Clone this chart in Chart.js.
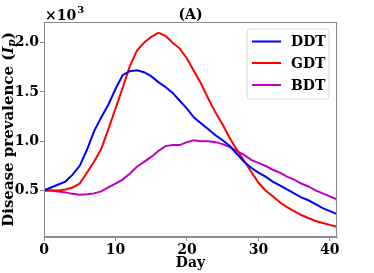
<!DOCTYPE html>
<html>
<head>
<meta charset="utf-8">
<script src="https://cdn.jsdelivr.net/npm/chart.js@4"></script>
<style>
html,body{margin:0;padding:0;background:#fff;}
#wrap{width:374px;height:273px;position:relative;}
</style>
</head>
<body>
<div id="wrap"><canvas id="c" width="374" height="273"></canvas></div>
<script>
const days = [0,1,2,3,4,5,6,7,8,9,10,11,12,13,14,15,16,17,18,19,20,21,22,23,24,25,26,27,28,29,30,31,32,33,34,35,36,37,38,39,40,41];
const ddt = [0.50,0.53,0.56,0.59,0.66,0.75,0.91,1.10,1.24,1.37,1.53,1.67,1.71,1.72,1.70,1.66,1.60,1.55,1.49,1.41,1.33,1.24,1.18,1.12,1.06,1.01,0.95,0.87,0.79,0.73,0.68,0.64,0.59,0.55,0.51,0.47,0.43,0.40,0.36,0.32,0.29,0.26];
const gdt = [0.50,0.50,0.50,0.51,0.53,0.57,0.68,0.79,0.92,1.12,1.33,1.54,1.76,1.92,2.00,2.06,2.10,2.07,2.00,1.94,1.84,1.71,1.58,1.43,1.29,1.17,1.03,0.91,0.80,0.69,0.58,0.50,0.44,0.38,0.33,0.29,0.25,0.22,0.19,0.17,0.15,0.13];
const bdt = [0.50,0.50,0.49,0.48,0.465,0.455,0.46,0.47,0.49,0.53,0.57,0.61,0.67,0.74,0.79,0.84,0.90,0.95,0.96,0.96,0.99,1.01,1.00,1.00,0.99,0.97,0.94,0.90,0.86,0.81,0.78,0.75,0.71,0.68,0.64,0.61,0.57,0.54,0.50,0.47,0.44,0.41];
const seriesNames = ['DDT','GDT','BDT'];
const seriesColors = ['#0000ff','#ff0000','#bf00bf'];
const xTicks = [0,10,20,30,40];
const yTicks = [0.5,1.0,1.5,2.0];
const panelTitle = '(A)';
const xTitle = 'Day';

const FONT = "'DejaVu Serif'";
const spine = '#8a8a8a';

function pts(arr){ return days.map((d,i)=>({x:d,y:arr[i]})); }

const deco = {
  id:'deco',
  afterDraw(chart){
    const ctx = chart.ctx, a = chart.chartArea;
    ctx.save();
    ctx.strokeStyle = spine; ctx.lineWidth = 1;
    ctx.strokeRect(Math.round(a.left)+0.5, Math.round(a.top)+0.5, Math.round(a.right-a.left)-1, Math.round(a.bottom-a.top)-1);
    ctx.fillStyle = '#000';
    ctx.font = 'bold 14px ' + FONT;
    ctx.textAlign = 'center'; ctx.textBaseline = 'alphabetic';
    ctx.fillText(panelTitle, (a.left+a.right)/2, 19);
    ctx.textAlign = 'left';
    ctx.fillText('\u00d710', a.left+1, 20);
    const w = ctx.measureText('\u00d710').width;
    ctx.font = 'bold 10px ' + FONT;
    ctx.fillText('3', a.left+1+w+1, 13);
    ctx.font = 'bold 14px ' + FONT;
    ctx.textAlign = 'center';
    ctx.fillText(xTitle, (a.left+a.right)/2, 267);
    ctx.save();
    ctx.translate(12.5, (a.top+a.bottom)/2);
    ctx.rotate(-Math.PI/2);
    const p1 = 'Disease prevalence (', p2 = 'I', p3 = 'p', p4 = ')';
    ctx.font = 'bold 15px ' + FONT; const w1 = ctx.measureText(p1).width, w4 = ctx.measureText(p4).width;
    ctx.font = 'bold italic 15px ' + FONT; const w2 = ctx.measureText(p2).width;
    ctx.font = 'bold italic 10.5px ' + FONT; const w3 = ctx.measureText(p3).width;
    let x = -(w1+w2+w3+w4)/2;
    ctx.textAlign = 'left';
    ctx.font = 'bold 15px ' + FONT; ctx.fillText(p1, x, 0); x += w1;
    ctx.font = 'bold italic 15px ' + FONT; ctx.fillText(p2, x, 0); x += w2;
    ctx.font = 'bold italic 10.5px ' + FONT; ctx.fillText(p3, x, 2.5); x += w3;
    ctx.font = 'bold 15px ' + FONT; ctx.fillText(p4, x, 0);
    ctx.restore();
    const bx = 247, by = 29, bw = 82, bh = 70, r = 3;
    ctx.beginPath();
    ctx.moveTo(bx+r,by); ctx.lineTo(bx+bw-r,by); ctx.quadraticCurveTo(bx+bw,by,bx+bw,by+r);
    ctx.lineTo(bx+bw,by+bh-r); ctx.quadraticCurveTo(bx+bw,by+bh,bx+bw-r,by+bh);
    ctx.lineTo(bx+r,by+bh); ctx.quadraticCurveTo(bx,by+bh,bx,by+bh-r);
    ctx.lineTo(bx,by+r); ctx.quadraticCurveTo(bx,by,bx+r,by); ctx.closePath();
    ctx.fillStyle = 'rgba(255,255,255,0.8)'; ctx.fill();
    ctx.strokeStyle = '#d8d8d8'; ctx.lineWidth = 1; ctx.stroke();
    const rows = [41.5, 63, 85];
    ctx.font = 'bold 14px ' + FONT; ctx.textBaseline = 'middle'; ctx.textAlign = 'left';
    chart.data.datasets.forEach((ds,i)=>{
      ctx.strokeStyle = ds.borderColor; ctx.lineWidth = 2;
      ctx.beginPath(); ctx.moveTo(252, rows[i]); ctx.lineTo(281, rows[i]); ctx.stroke();
      ctx.fillStyle = '#000'; ctx.fillText(ds.label, 291, rows[i]+1);
    });
    ctx.restore();
  }
};

new Chart(document.getElementById('c'), {
  type:'line',
  data:{
    datasets:[
      {label:seriesNames[0], data:pts(ddt), borderColor:seriesColors[0]},
      {label:seriesNames[1], data:pts(gdt), borderColor:seriesColors[1]},
      {label:seriesNames[2], data:pts(bdt), borderColor:seriesColors[2]}
    ]
  },
  options:{
    responsive:false, animation:false, devicePixelRatio:1,
    elements:{point:{radius:0}, line:{borderWidth:2, tension:0, fill:false}},
    layout:{padding:{top:22,right:37,left:0,bottom:0}},
    plugins:{legend:{display:false}, title:{display:false}, tooltip:{enabled:false}},
    scales:{
      x:{type:'linear', min:0, max:41,
        afterBuildTicks(s){ s.ticks = xTicks.map(v=>({value:v})); },
        afterFit(s){ s.height = 36; },
        ticks:{font:{family:'DejaVu Serif', size:14, weight:'bold'}, color:'#000', padding:1, maxRotation:0, autoSkip:false, callback:v=>String(v)},
        grid:{drawOnChartArea:false, tickLength:4, color:spine},
        border:{color:spine}
      },
      y:{type:'linear', min:0.027, max:2.21,
        afterBuildTicks(s){ s.ticks = yTicks.map(v=>({value:v})); },
        afterFit(s){ s.width = 44; },
        ticks:{font:{family:'DejaVu Serif', size:14, weight:'bold'}, color:'#000', padding:1, autoSkip:false, callback:v=>v.toFixed(1)},
        grid:{drawOnChartArea:false, tickLength:4, color:spine},
        border:{color:spine}
      }
    }
  },
  plugins:[deco]
});
</script>
</body>
</html>
